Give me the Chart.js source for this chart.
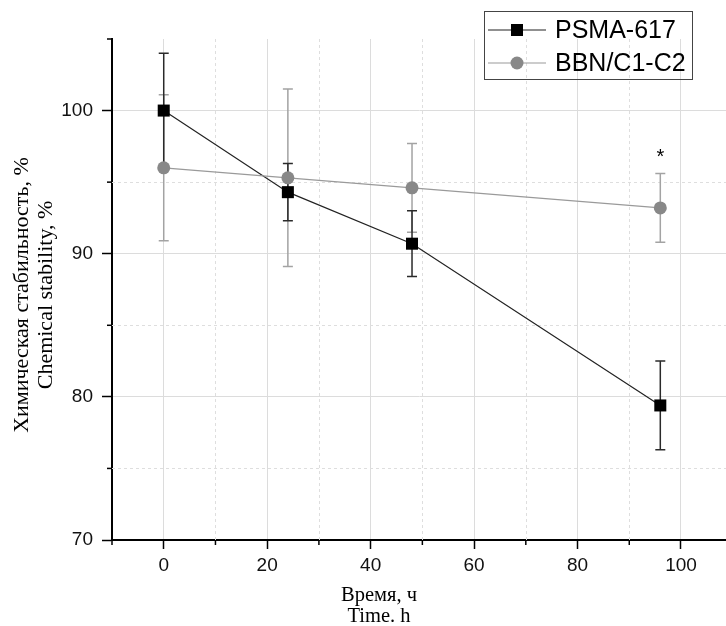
<!DOCTYPE html>
<html>
<head>
<meta charset="utf-8">
<script src="https://cdn.jsdelivr.net/npm/chart.js@4/dist/chart.umd.min.js"></script>
<style>
html,body{margin:0;padding:0;background:#fff;}
#wrap{width:726px;height:626px;position:relative;}
</style>
</head>
<body>
<div id="wrap"><canvas id="c"></canvas></div>
<script>
// ---- data ----
const timeH = [0, 24, 48, 96];
const psmaValues = [100.0, 94.3, 90.7, 79.4];
const psmaErrors = [4.0, 2.0, 2.3, 3.1];
const bbnValues = [96.0, 95.3, 94.6, 93.2];
const bbnErrors = [5.1, 6.2, 3.1, 2.4];
const seriesNames = ['PSMA-617', 'BBN/C1-C2'];
const xTickValues = [0, 20, 40, 60, 80, 100];
const xMinorValues = [-10, 10, 30, 50, 70, 90];
const yTickValues = [70, 80, 90, 100];
const yMinorValues = [75, 85, 95, 105];
const yTitleLines = ['Химическая стабильность, %', 'Chemical stability, %'];
const xTitleLines = ['Время, ч', 'Time. h'];
const markText = '*';
const markAt = {x: 96, y: 96.7};

const toPts = (vals) => vals.map((v, i) => ({x: timeH[i], y: v}));

const extrasPlugin = {
  id: 'extras',
  beforeDatasetsDraw(chart) {
    const ctx = chart.ctx;
    const xs = chart.scales.x, ys = chart.scales.y;
    const ca = chart.chartArea;
    ctx.save();
    // minor dashed grid
    ctx.strokeStyle = '#dedede';
    ctx.lineWidth = 1;
    ctx.setLineDash([3, 3]);
    xMinorValues.forEach(v => {
      const px = Math.round(xs.getPixelForValue(v)) + 0.5;
      if (px <= ca.left + 2) return;
      ctx.beginPath(); ctx.moveTo(px, ca.top); ctx.lineTo(px, ca.bottom); ctx.stroke();
    });
    yMinorValues.forEach(v => {
      const py = Math.round(ys.getPixelForValue(v)) + 0.5;
      if (py <= ca.top + 2) return;
      ctx.beginPath(); ctx.moveTo(ca.left, py); ctx.lineTo(ca.right, py); ctx.stroke();
    });
    ctx.setLineDash([]);
    // minor ticks
    ctx.strokeStyle = '#000';
    ctx.lineWidth = 1.5;
    xMinorValues.forEach(v => {
      const px = xs.getPixelForValue(v);
      ctx.beginPath(); ctx.moveTo(px, ca.bottom); ctx.lineTo(px, ca.bottom + 5); ctx.stroke();
    });
    yMinorValues.forEach(v => {
      const py = ys.getPixelForValue(v);
      ctx.beginPath(); ctx.moveTo(ca.left, py); ctx.lineTo(ca.left - 5, py); ctx.stroke();
    });
    // error bars
    const drawErr = (vals, errs, color) => {
      ctx.strokeStyle = color;
      ctx.lineWidth = 1.5;
      vals.forEach((v, i) => {
        const px = xs.getPixelForValue(timeH[i]);
        const top = ys.getPixelForValue(v + errs[i]);
        const bot = ys.getPixelForValue(v - errs[i]);
        ctx.beginPath();
        ctx.moveTo(px, top); ctx.lineTo(px, bot);
        ctx.moveTo(px - 5, top); ctx.lineTo(px + 5, top);
        ctx.moveTo(px - 5, bot); ctx.lineTo(px + 5, bot);
        ctx.stroke();
      });
    };
    drawErr(bbnValues, bbnErrors, '#a3a3a3');
    drawErr(psmaValues, psmaErrors, '#2a2a2a');
    ctx.restore();
  },
  afterDraw(chart) {
    const ctx = chart.ctx;
    const xs = chart.scales.x, ys = chart.scales.y;
    ctx.save();
    ctx.fillStyle = '#000';
    // asterisk
    ctx.font = '20px "Liberation Sans", Arial, sans-serif';
    ctx.textAlign = 'center';
    ctx.textBaseline = 'middle';
    ctx.fillText(markText, xs.getPixelForValue(markAt.x), ys.getPixelForValue(markAt.y));
    // x title
    ctx.font = '20.5px "Liberation Serif", "Times New Roman", serif';
    ctx.textBaseline = 'alphabetic';
    ctx.fillText(xTitleLines[0], 379, 601);
    ctx.fillText(xTitleLines[1], 379, 622);
    // y title
    ctx.save();
    ctx.font = '22px "Liberation Serif", "Times New Roman", serif';
    ctx.translate(0, 295);
    ctx.rotate(-Math.PI / 2);
    ctx.textBaseline = 'middle';
    ctx.fillText(yTitleLines[0], 0, 22);
    ctx.fillText(yTitleLines[1], 0, 46);
    ctx.restore();
    // legend
    const ds = chart.data.datasets;
    ctx.strokeStyle = '#444';
    ctx.lineWidth = 1;
    ctx.strokeRect(484.5, 11.5, 208, 68);
    const rows = [{i: 1, y: 30}, {i: 0, y: 63}];
    rows.forEach(r => {
      const d = ds[r.i];
      ctx.strokeStyle = d.borderColor;
      ctx.lineWidth = 1.2;
      ctx.beginPath(); ctx.moveTo(488, r.y); ctx.lineTo(546, r.y); ctx.stroke();
      ctx.fillStyle = d.pointBackgroundColor;
      if (d.pointStyle === 'rect') {
        ctx.fillRect(517 - 6, r.y - 6, 12, 12);
      } else {
        ctx.beginPath(); ctx.arc(517, r.y, 6.5, 0, Math.PI * 2); ctx.fill();
      }
      ctx.fillStyle = '#000';
      ctx.font = '25px "Liberation Sans", Arial, sans-serif';
      ctx.textAlign = 'left';
      ctx.textBaseline = 'middle';
      ctx.fillText(d.label, 555, r.y + 1);
    });
    ctx.restore();
  }
};

new Chart(document.getElementById('c'), {
  type: 'scatter',
  data: {
    datasets: [
      {
        label: seriesNames[1],
        data: toPts(bbnValues),
        showLine: true,
        borderColor: '#9a9a9a',
        borderWidth: 1.2,
        pointStyle: 'circle',
        pointRadius: 6.5,
        pointBackgroundColor: '#888888',
        pointBorderWidth: 0,
        pointBorderColor: '#888888'
      },
      {
        label: seriesNames[0],
        data: toPts(psmaValues),
        showLine: true,
        borderColor: '#222222',
        borderWidth: 1.2,
        pointStyle: 'rect',
        pointRadius: 8.5,
        pointBackgroundColor: '#000000',
        pointBorderWidth: 0,
        pointBorderColor: '#000000'
      }
    ]
  },
  options: {
    responsive: true,
    maintainAspectRatio: false,
    animation: false,
    devicePixelRatio: 1,
    layout: {autoPadding: false, padding: {top: 39, right: 0, bottom: 0, left: 0}},
    plugins: {legend: {display: false}, tooltip: {enabled: false}},
    scales: {
      x: {
        type: 'linear',
        min: -10,
        max: 108.7,
        afterBuildTicks: (s) => { s.ticks = xTickValues.map(v => ({value: v})); },
        afterFit: (s) => { s.height = 86; s.paddingRight = 0; s.paddingLeft = 0; },
        ticks: {
          font: {family: '"Liberation Sans", Arial, sans-serif', size: 19},
          color: '#111',
          padding: 5,
          maxRotation: 0
        },
        grid: {color: '#dcdcdc', lineWidth: 1, tickColor: '#000', tickLength: 9, tickWidth: 1.5},
        border: {color: '#000', width: 2}
      },
      y: {
        min: 70,
        max: 105,
        afterBuildTicks: (s) => { s.ticks = yTickValues.map(v => ({value: v})); },
        afterFit: (s) => { s.width = 112; s.paddingTop = 0; s.paddingBottom = 0; },
        ticks: {
          font: {family: '"Liberation Sans", Arial, sans-serif', size: 19},
          color: '#111',
          padding: 9
        },
        grid: {color: '#dcdcdc', lineWidth: 1, tickColor: '#000', tickLength: 10, tickWidth: 1.5},
        border: {color: '#000', width: 2}
      }
    }
  },
  plugins: [extrasPlugin]
});
</script>
</body>
</html>
